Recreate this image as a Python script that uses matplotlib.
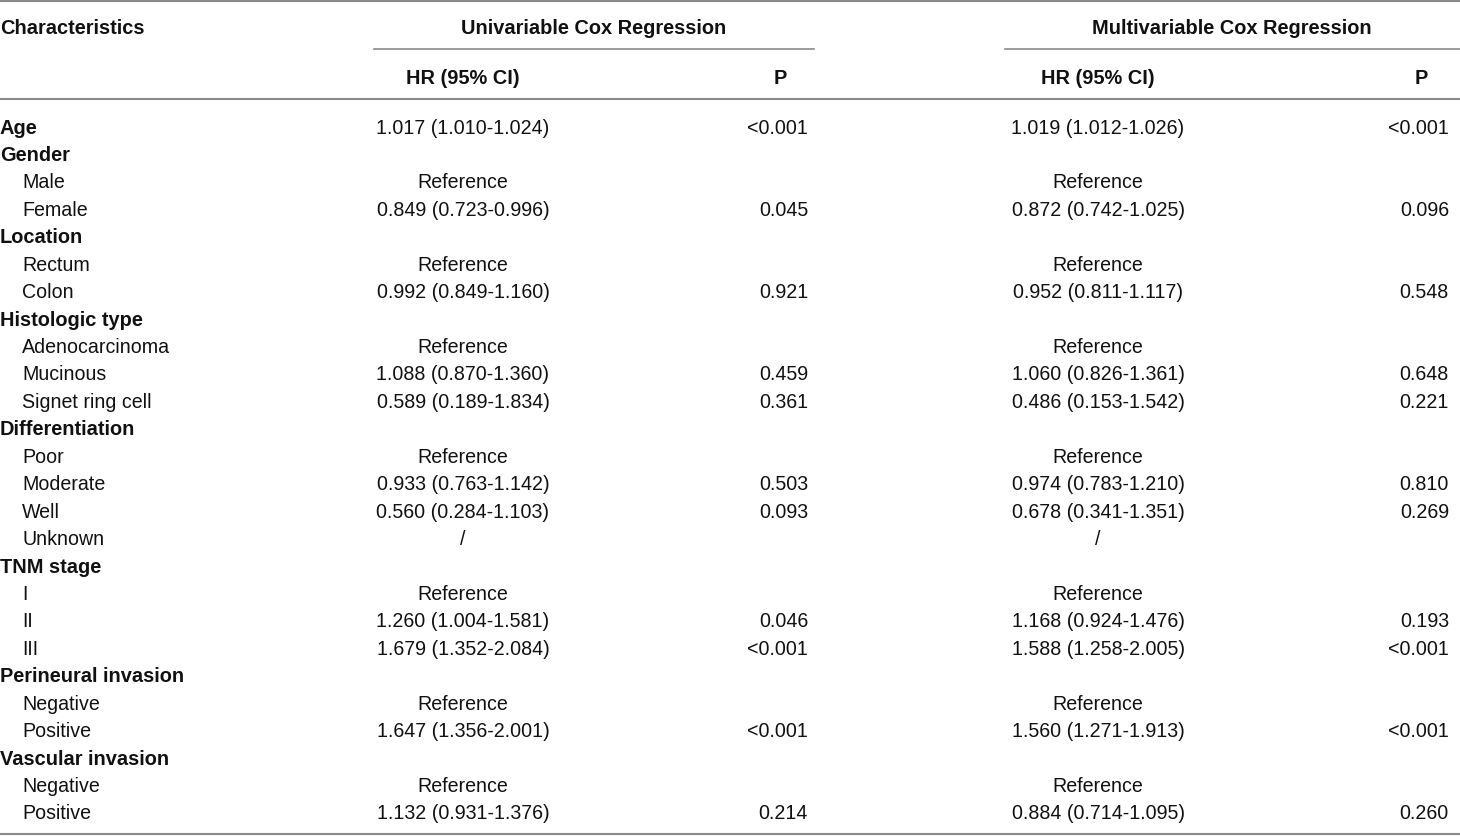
import matplotlib.pyplot as plt

plt.rcParams['font.family'] = ['Liberation Sans', 'DejaVu Sans']

# table content
labels = ['Age', 'Gender', 'Male', 'Female', 'Location', 'Rectum', 'Colon',
          'Histologic type', 'Adenocarcinoma', 'Mucinous', 'Signet ring cell',
          'Differentiation', 'Poor', 'Moderate', 'Well', 'Unknown',
          'TNM stage', 'I', 'II', 'III', 'Perineural invasion', 'Negative', 'Positive',
          'Vascular invasion', 'Negative', 'Positive']
is_group = [True, True, False, False, True, False, False,
            True, False, False, False,
            True, False, False, False, False,
            True, False, False, False, True, False, False,
            True, False, False]
hr_uni = ['1.017 (1.010-1.024)', '', 'Reference', '0.849 (0.723-0.996)', '', 'Reference',
          '0.992 (0.849-1.160)', '', 'Reference', '1.088 (0.870-1.360)', '0.589 (0.189-1.834)',
          '', 'Reference', '0.933 (0.763-1.142)', '0.560 (0.284-1.103)', '/',
          '', 'Reference', '1.260 (1.004-1.581)', '1.679 (1.352-2.084)', '', 'Reference',
          '1.647 (1.356-2.001)', '', 'Reference', '1.132 (0.931-1.376)']
p_uni = ['<0.001', '', '', '0.045', '', '', '0.921', '', '', '0.459', '0.361',
         '', '', '0.503', '0.093', '', '', '', '0.046', '<0.001', '', '', '<0.001',
         '', '', '0.214']
hr_multi = ['1.019 (1.012-1.026)', '', 'Reference', '0.872 (0.742-1.025)', '', 'Reference',
            '0.952 (0.811-1.117)', '', 'Reference', '1.060 (0.826-1.361)', '0.486 (0.153-1.542)',
            '', 'Reference', '0.974 (0.783-1.210)', '0.678 (0.341-1.351)', '/',
            '', 'Reference', '1.168 (0.924-1.476)', '1.588 (1.258-2.005)', '', 'Reference',
            '1.560 (1.271-1.913)', '', 'Reference', '0.884 (0.714-1.095)']
p_multi = ['<0.001', '', '', '0.096', '', '', '0.548', '', '', '0.648', '0.221',
           '', '', '0.810', '0.269', '', '', '', '0.193', '<0.001', '', '', '<0.001',
           '', '', '0.260']

W, H = 1460, 837
fig = plt.figure(figsize=(W / 100, H / 100), dpi=100)
ax = fig.add_axes([0, 0, 1, 1])
ax.set_xlim(0, W)
ax.set_ylim(H, 0)
ax.axis('off')

fs = 14.1
fsb = 14.4
line_col = '#8a8a8a'
txt_col = '#111111'

# rules
ax.plot([0, W], [1.5, 1.5], color=line_col, lw=1.5)
ax.plot([374, 814], [50, 50], color=line_col, lw=1.2)
ax.plot([1005, W], [50, 50], color=line_col, lw=1.2)
ax.plot([0, W], [100, 100], color=line_col, lw=1.5)
ax.plot([0, W], [835, 835], color=line_col, lw=1.5)

# header
hdr = dict(fontsize=fsb, weight='bold', va='center', color=txt_col)
ax.text(0, 28, 'Characteristics', ha='left', **hdr)
ax.text(594, 28, 'Univariable Cox Regression', ha='center', **hdr)
ax.text(1232, 28, 'Multivariable Cox Regression', ha='center', **hdr)
ax.text(463, 78, 'HR (95% CI)', ha='center', **hdr)
ax.text(780, 78, 'P', ha='center', **hdr)
ax.text(1098, 78, 'HR (95% CI)', ha='center', **hdr)
ax.text(1421, 78, 'P', ha='center', **hdr)

body = dict(fontsize=fs, va='center', color=txt_col)
y0, dy = 128, 27.44
for i, lab in enumerate(labels):
    y = y0 + i * dy
    if is_group[i]:
        ax.text(0, y, lab, ha='left', **hdr)
    else:
        ax.text(22, y, lab, ha='left', **body)
    ax.text(463, y, hr_uni[i], ha='center', **body)
    ax.text(808, y, p_uni[i], ha='right', **body)
    ax.text(1098, y, hr_multi[i], ha='center', **body)
    ax.text(1449, y, p_multi[i], ha='right', **body)

fig.savefig('out.png', dpi=100)
